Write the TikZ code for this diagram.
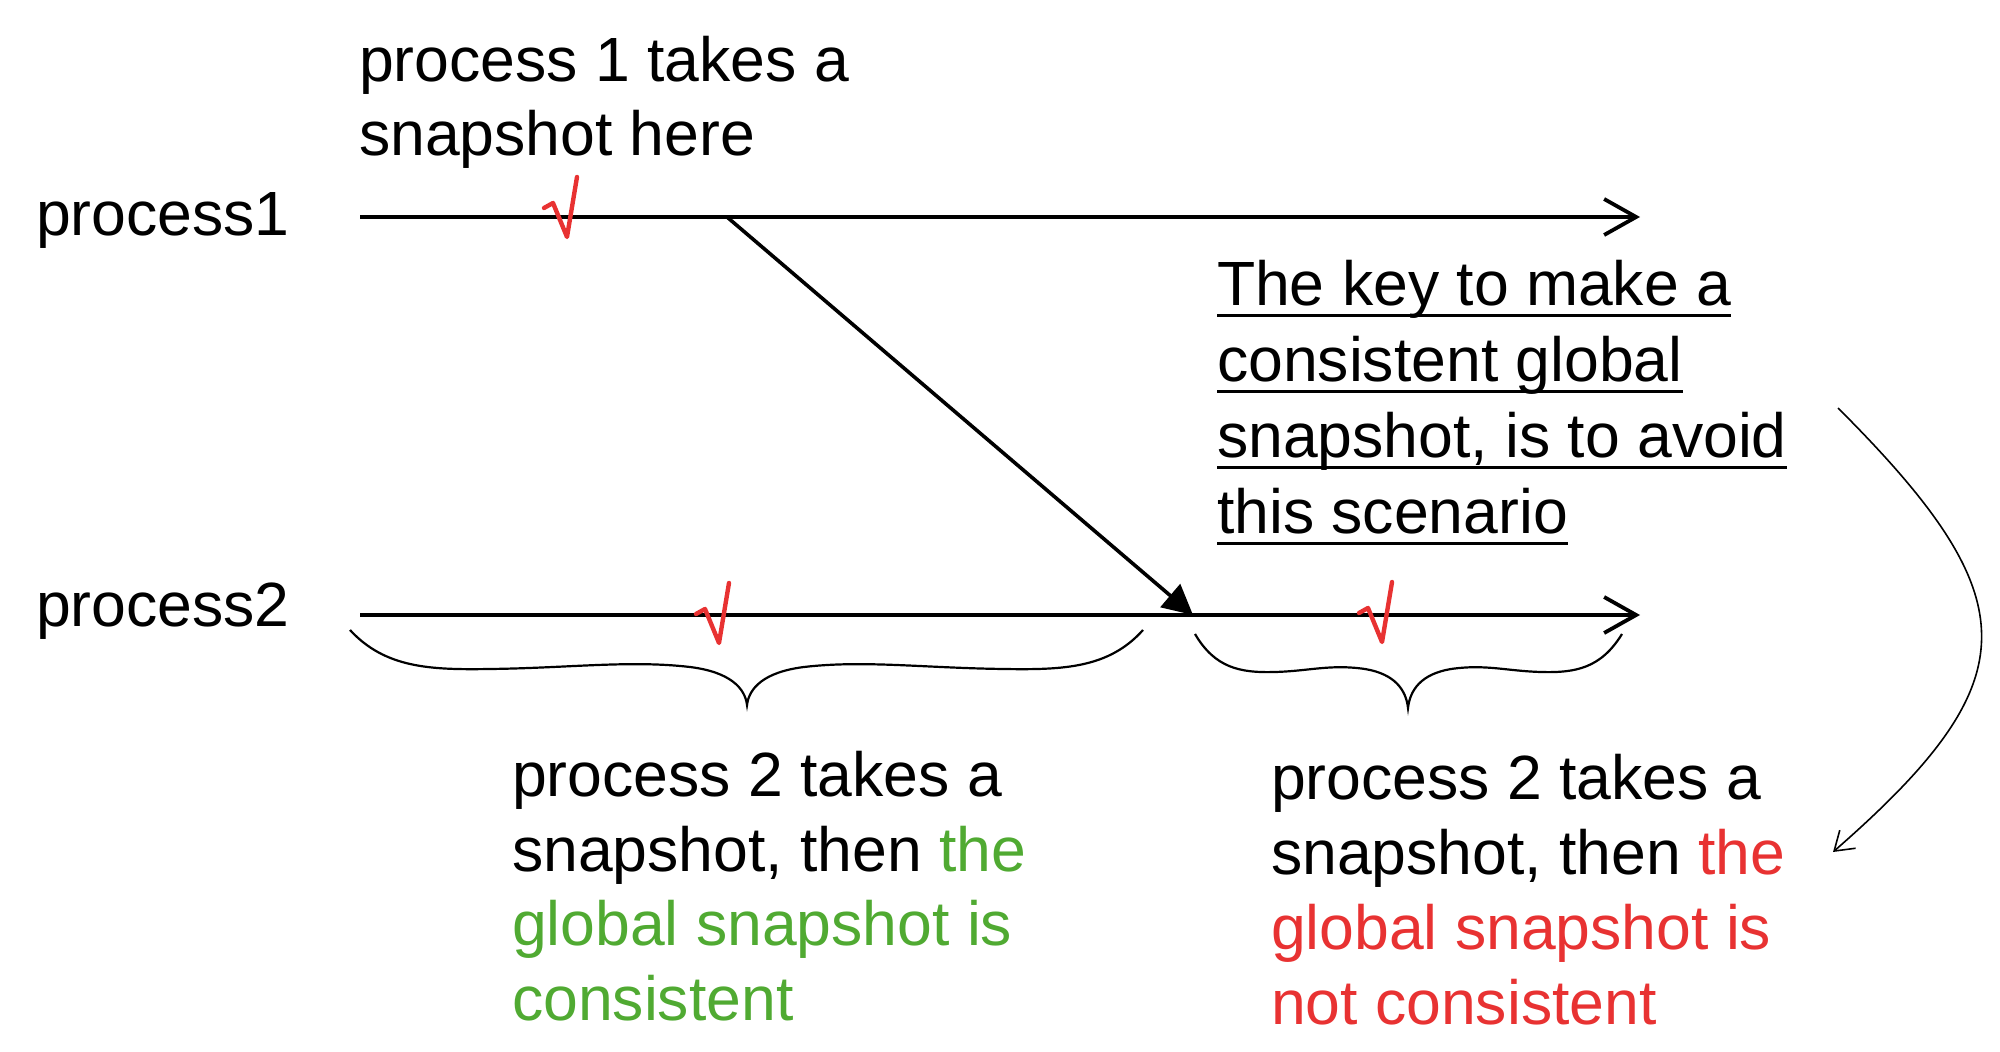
\documentclass[tikz,border=0pt]{standalone}
\usepackage{fontspec}
\setmainfont{Liberation Sans}
\usetikzlibrary{arrows.meta}
\definecolor{chkred}{RGB}{232,50,50}
\definecolor{okgreen}{RGB}{80,170,50}
\definecolor{badred}{RGB}{232,50,50}
\begin{document}
\begin{tikzpicture}[x=0.5pt,y=-0.5pt,
  txt/.style={anchor=base west, inner sep=0pt, outer sep=0pt, font=\fontsize{31.25}{37.25}\selectfont},
  timeline/.style={line width=1.9pt, -{Straight Barb[length=16pt,width=18pt]}},
  msgline/.style={line width=1.8pt, -{Triangle[length=15pt,width=15pt]}},
  bracepath/.style={line width=1.1pt},
  thinarrow/.style={line width=0.8pt, -{Straight Barb[length=9pt,width=12pt]}},
  uline/.style={line width=1.5pt},
  chk/.pic={\draw[chkred, line width=2.2pt, line join=round, line cap=round] (-23,-29) -- (-14,-34) -- (0,0) -- (10,-60);}
]
\useasboundingbox (0,0) rectangle (2000,1052);

% labels
\node[txt] (p1lab) at (36,236) {process1};
\node[txt] (p2lab) at (36,626) {process2};

% timelines
\coordinate (p1s) at (360,217);
\coordinate (p1e) at (1640,217);
\coordinate (p2s) at (360,615);
\coordinate (p2e) at (1640,615);
\draw[timeline] (p1s) -- (p1e);
\draw[timeline] (p2s) -- (p2e);

% message
\coordinate (msgs) at (727,217);
\coordinate (msge) at (1193,615);
\draw[msgline] (msgs) -- (msge);

% check marks
\pic at (567,237) {chk};
\pic at (719,643) {chk};
\pic at (1382,642) {chk};

% top text
\node[txt] (t1a) at (359,82) {process 1 takes a};
\node[txt] (t1b) at (359,156) {snapshot here};

% key text (underlined)
\node[txt] (k1) at (1217,306) {The key to make a};
\node[txt] (k2) at (1217,382) {consistent global};
\node[txt] (k3) at (1217,458) {snapshot, is to avoid};
\node[txt] (k4) at (1217,534) {this scenario};
\foreach \k in {k1,k2,k3,k4}{
  \draw[uline] ([yshift=-5pt]\k.base west) -- ([yshift=-5pt]\k.base east);
}

% braces
\draw[bracepath] (350,630) .. controls (385,668) and (430,670) .. (490,669)
  .. controls (570,668) and (630,660) .. (690,667)
  .. controls (730,672) and (745,688) .. (747,705)
  .. controls (749,688) and (764,672) .. (804,667)
  .. controls (864,660) and (924,668) .. (1004,669)
  .. controls (1064,670) and (1109,668) .. (1143,630);
\draw[bracepath] (1195,634) .. controls (1215,668) and (1240,673) .. (1275,672)
  .. controls (1310,671) and (1330,664) .. (1365,669)
  .. controls (1395,674) and (1406,690) .. (1408,708)
  .. controls (1410,690) and (1421,674) .. (1451,669)
  .. controls (1486,664) and (1506,671) .. (1541,672)
  .. controls (1576,673) and (1601,668) .. (1622,634);

% bottom-left text
\node[txt] (bl1) at (512,796) {process 2 takes a};
\node[txt] (bl2) at (512,871) {snapshot, then \textcolor{okgreen}{the}};
\node[txt, text=okgreen] (bl3) at (512,945) {global snapshot is};
\node[txt, text=okgreen] (bl4) at (512,1020) {consistent};

% bottom-right text
\node[txt] (br1) at (1271,799) {process 2 takes a};
\node[txt] (br2) at (1271,874) {snapshot, then \textcolor{badred}{the}};
\node[txt, text=badred] (br3) at (1271,949) {global snapshot is};
\node[txt, text=badred] (br4) at (1271,1024) {not consistent};

% curved arrow
\coordinate (cs) at (1838,408);
\coordinate (ce) at (1833,852);
\draw[thinarrow] (cs) .. controls (2030,600) and (2030,680) .. (ce);
\end{tikzpicture}
\end{document}
